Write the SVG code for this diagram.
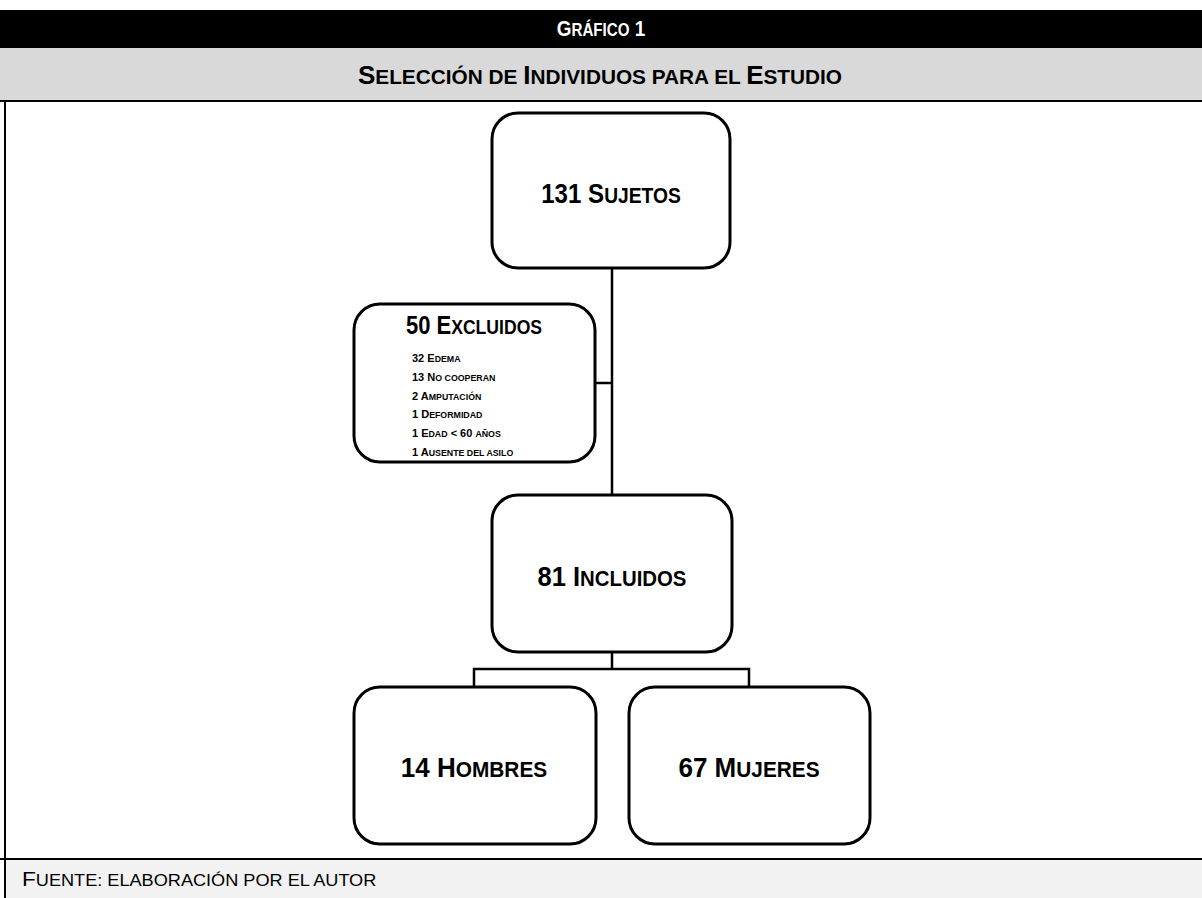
<svg xmlns="http://www.w3.org/2000/svg" width="1202" height="898" viewBox="0 0 1202 898">
<style>
.t{font-family:"Liberation Sans",Arial,sans-serif;font-weight:bold;}
.r{font-family:"Liberation Sans",Arial,sans-serif;font-weight:normal;}
.box{fill:#fff;stroke:#000;stroke-width:3;}
.big{font-size:28px;text-anchor:middle;fill:#000;}
.item{font-size:11px;fill:#000;}
.s{font-size:80%;}
.conn{stroke:#000;stroke-width:2.5;fill:none;}
</style>
<rect x="0" y="0" width="1202" height="898" fill="#fff"/>
<g id="header">
<rect x="0" y="10" width="1202" height="38" fill="#000"/>
<rect x="0" y="48" width="1202" height="52" fill="#d9d9d9"/>
<line x1="0" y1="101" x2="1202" y2="101" stroke="#000" stroke-width="2"/>
<text class="t" transform="translate(601,36) scale(0.86,1)" font-size="22" fill="#fff" text-anchor="middle">G<tspan class="s">RÁFICO</tspan> 1</text>
<text class="t" x="600" y="84" font-size="26" fill="#000" text-anchor="middle">S<tspan class="s">ELECCIÓN DE </tspan>I<tspan class="s">NDIVIDUOS PARA EL </tspan>E<tspan class="s">STUDIO</tspan></text>
</g>
<line x1="5" y1="101" x2="5" y2="898" stroke="#000" stroke-width="2"/>
<g id="connectors">
<line class="conn" x1="612" y1="268" x2="612" y2="495"/>
<line class="conn" x1="595" y1="383" x2="612" y2="383"/>
<line class="conn" x1="612" y1="652" x2="612" y2="669"/>
<polyline class="conn" points="474,687 474,669 749,669 749,687"/>
</g>
<g id="n131">
<rect class="box" x="492" y="113" width="238" height="155" rx="26"/>
<text class="t big" transform="translate(611,203) scale(0.86,1)">131 S<tspan class="s">UJETOS</tspan></text>
</g>
<g id="n50">
<rect class="box" x="354" y="304" width="241" height="158" rx="26"/>
<text class="t" transform="translate(474,334) scale(0.88,1)" font-size="25" text-anchor="middle">50 E<tspan class="s">XCLUIDOS</tspan></text>
<text class="t item" x="412" y="362">32 E<tspan class="s">DEMA</tspan></text>
<text class="t item" x="412" y="381">13 N<tspan class="s">O COOPERAN</tspan></text>
<text class="t item" x="412" y="399.5">2 A<tspan class="s">MPUTACIÓN</tspan></text>
<text class="t item" x="412" y="418">1 D<tspan class="s">EFORMIDAD</tspan></text>
<text class="t item" x="412" y="437">1 E<tspan class="s">DAD</tspan> &lt; 60 <tspan class="s">AÑOS</tspan></text>
<text class="t item" x="412" y="455.5">1 A<tspan class="s">USENTE DEL ASILO</tspan></text>
</g>
<g id="n81">
<rect class="box" x="492" y="495" width="240" height="157" rx="26"/>
<text class="t big" transform="translate(612,586) scale(0.91,1)">81 I<tspan class="s">NCLUIDOS</tspan></text>
</g>
<g id="n14">
<rect class="box" x="354" y="687" width="242" height="157" rx="26"/>
<text class="t big" transform="translate(474,777) scale(0.93,1)">14 H<tspan class="s">OMBRES</tspan></text>
</g>
<g id="n67">
<rect class="box" x="629" y="687" width="241" height="157" rx="26"/>
<text class="t big" transform="translate(749,777) scale(0.93,1)">67 M<tspan class="s">UJERES</tspan></text>
</g>
<g id="footer">
<rect x="6" y="860" width="1196" height="38" fill="#f2f2f2"/>
<line x1="0" y1="859" x2="1202" y2="859" stroke="#000" stroke-width="2"/>
<text class="r" transform="translate(22,886) scale(1.08,1)" font-size="21" fill="#000">F<tspan class="s">UENTE: ELABORACIÓN POR EL AUTOR</tspan></text>
</g>
</svg>
